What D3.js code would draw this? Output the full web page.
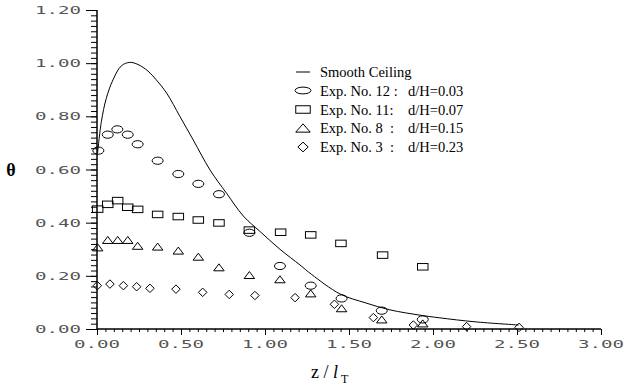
<!DOCTYPE html>
<html>
<head>
<meta charset="utf-8">
<script src="https://cdn.jsdelivr.net/npm/d3@7/dist/d3.min.js"></script>
<style>
  html, body { margin: 0; padding: 0; background: #fff; }
  svg { display: block; }
  .tick-label { font-family: "DejaVu Sans Mono", monospace; font-size: 10px; fill: #555; }
  .legend-text { font-family: "Liberation Serif", "Times New Roman", serif; font-size: 14.5px; fill: #000; white-space: pre; }
</style>
</head>
<body>
<svg id="chart" width="627" height="387"></svg>
<script>
// Axis ticks
const xTickValues = [0, 0.5, 1.0, 1.5, 2.0, 2.5, 3.0];
const yTickValues = [0, 0.2, 0.4, 0.6, 0.8, 1.0, 1.2];

// Smooth ceiling prediction
const smoothX = [0.003, 0.026, 0.055, 0.095, 0.145, 0.195, 0.244, 0.304, 0.353, 0.415, 0.494, 0.573, 0.673, 0.772, 0.871, 0.970, 1.089, 1.208, 1.278, 1.446, 1.600, 1.744, 1.923, 2.040, 2.250, 2.510];
const smoothY = [0.660, 0.780, 0.867, 0.937, 0.990, 1.003, 0.995, 0.970, 0.937, 0.887, 0.799, 0.711, 0.598, 0.510, 0.425, 0.367, 0.300, 0.241, 0.205, 0.132, 0.098, 0.072, 0.052, 0.042, 0.027, 0.015];

// Exp. No. 12 : d/H = 0.03
const exp12X = [0.008, 0.064, 0.121, 0.183, 0.242, 0.361, 0.484, 0.603, 0.726, 0.907, 1.089, 1.272, 1.456, 1.695, 1.939];
const exp12Y = [0.671, 0.731, 0.751, 0.731, 0.695, 0.633, 0.583, 0.546, 0.507, 0.362, 0.237, 0.163, 0.115, 0.069, 0.036];

// Exp. No. 11 : d/H = 0.07
const exp11X = [0.004, 0.064, 0.123, 0.183, 0.242, 0.361, 0.484, 0.603, 0.726, 0.907, 1.093, 1.272, 1.452, 1.700, 1.939];
const exp11Y = [0.451, 0.469, 0.483, 0.458, 0.450, 0.431, 0.423, 0.410, 0.399, 0.372, 0.364, 0.354, 0.322, 0.278, 0.234];

// Exp. No. 8 : d/H = 0.15
const exp8X = [0.004, 0.064, 0.123, 0.183, 0.242, 0.361, 0.484, 0.603, 0.726, 0.907, 1.089, 1.272, 1.456, 1.695, 1.939];
const exp8Y = [0.307, 0.335, 0.335, 0.335, 0.313, 0.310, 0.295, 0.272, 0.232, 0.203, 0.187, 0.134, 0.078, 0.036, 0.021];

// Exp. No. 3 : d/H = 0.23
const exp3X = [0.002, 0.077, 0.157, 0.236, 0.315, 0.470, 0.629, 0.787, 0.940, 1.179, 1.413, 1.645, 1.883, 2.200, 2.512];
const exp3Y = [0.163, 0.169, 0.163, 0.159, 0.153, 0.150, 0.138, 0.130, 0.126, 0.118, 0.093, 0.043, 0.015, 0.009, 0.006];

const legendLabels = ["Smooth Ceiling", "Exp. No. 12 :", "Exp. No. 11:", "Exp. No. 8  :", "Exp. No. 3  :"];
const legendRatios = ["", "d/H=0.03", "d/H=0.07", "d/H=0.15", "d/H=0.23"];

const svg = d3.select("#chart");
const x = d3.scaleLinear().domain([0, 3]).range([97, 601]);
const y = d3.scaleLinear().domain([0, 1.2]).range([329, 10]);
const fmt = d3.format(".2f");

// Marker shapes
function ellipse(g, rx, ry) {
  g.append("ellipse").attr("rx", rx).attr("ry", ry);
}
function square(g, w, h) {
  g.append("rect").attr("x", -w / 2).attr("y", -h / 2).attr("width", w).attr("height", h);
}
function triangle(g, w, h) {
  g.append("path").attr("d", `M0,${-h / 2}L${w / 2},${h / 2}L${-w / 2},${h / 2}Z`);
}
function diamond(g, w, h) {
  g.append("path").attr("d", `M0,${-h / 2}L${w / 2},0L0,${h / 2}L${-w / 2},0Z`);
}

// X axis with minor ticks every 0.05
const xAxisG = svg.append("g").attr("transform", `translate(0,${y(0)})`);
xAxisG.call(d3.axisBottom(x).tickValues(d3.range(0, 3.0001, 0.05)).tickSize(3).tickFormat(""));
xAxisG.call(g2 => g2.append("g").call(d3.axisBottom(x).tickValues(xTickValues).tickSize(6).tickFormat("")));
xAxisG.selectAll(".domain").attr("d", `M${x(0)},0H${x(3)}`);

// Y axis with minor ticks every 0.02
const yAxisG = svg.append("g").attr("transform", `translate(${x(0)},0)`);
yAxisG.call(d3.axisLeft(y).tickValues(d3.range(0, 1.2001, 0.02)).tickSize(6).tickFormat(""));
yAxisG.call(g2 => g2.append("g").call(d3.axisLeft(y).tickValues(yTickValues).tickSize(11).tickFormat("")));
yAxisG.selectAll(".domain").attr("d", `M0,${y(0)}V${y(1.2)}`);

svg.selectAll(".domain, .tick line").attr("stroke", "#000").attr("stroke-width", 1);

// Tick labels in a wide plotter style
svg.append("g").selectAll("text").data(xTickValues).join("text")
  .attr("class", "tick-label")
  .attr("x", d => x(d) - 23).attr("y", y(0) + 19)
  .attr("textLength", 46).attr("lengthAdjust", "spacingAndGlyphs")
  .text(d => fmt(d));

svg.append("g").selectAll("text").data(yTickValues).join("text")
  .attr("class", "tick-label")
  .attr("x", 35).attr("y", d => y(d) + 4)
  .attr("textLength", 46).attr("lengthAdjust", "spacingAndGlyphs")
  .text(d => fmt(d));

// Axis titles
svg.append("text")
  .attr("x", 11).attr("y", y(0.6) + 6)
  .attr("text-anchor", "middle")
  .style("font-family", "'Liberation Serif', serif").style("font-size", "18px").style("font-weight", "bold")
  .text("θ");

const xt = svg.append("text")
  .attr("x", 311).attr("y", 378)
  .style("font-family", "'Liberation Serif', serif").style("font-size", "18px");
xt.append("tspan").text("z / ");
xt.append("tspan").style("font-style", "italic").text("l");
xt.append("tspan").attr("dx", 3).attr("dy", 5).style("font-size", "12px").text("T");

// Smooth ceiling curve
const smoothData = smoothX.map((v, i) => [v, smoothY[i]]);
svg.append("path")
  .datum(smoothData)
  .attr("fill", "none").attr("stroke", "#000").attr("stroke-width", 1)
  .attr("d", d3.line().x(d => x(d[0])).y(d => y(d[1])).curve(d3.curveCatmullRom.alpha(0.5)));

// Experimental series
const series = [
  { xs: exp12X, ys: exp12Y, draw: g => ellipse(g, 5.5, 3.6) },
  { xs: exp11X, ys: exp11Y, draw: g => square(g, 10.5, 6.5) },
  { xs: exp8X, ys: exp8Y, draw: g => triangle(g, 10.5, 7) },
  { xs: exp3X, ys: exp3Y, draw: g => diamond(g, 8.5, 8.5) }
];
series.forEach(s => {
  const pts = s.xs.map((v, i) => [v, s.ys[i]]);
  const g = svg.append("g").attr("fill", "none").attr("stroke", "#000").attr("stroke-width", 1);
  g.selectAll("g").data(pts).join("g")
    .attr("transform", d => `translate(${x(d[0])},${y(d[1])})`)
    .each(function () { s.draw(d3.select(this)); });
});

// Legend
const legend = svg.append("g");
const rowY = [72, 90.5, 109.5, 128, 147];
const legendMarkers = [
  g => g.append("line").attr("x1", -7).attr("x2", 7),
  g => ellipse(g, 8, 3.4),
  g => square(g, 14.5, 7.5),
  g => triangle(g, 14.5, 8.3),
  g => diamond(g, 10.3, 9.7)
];
legendLabels.forEach((lab, i) => {
  const mg = legend.append("g")
    .attr("transform", `translate(303,${rowY[i]})`)
    .attr("fill", "none").attr("stroke", "#000").attr("stroke-width", 1);
  legendMarkers[i](mg);
  legend.append("text").attr("class", "legend-text")
    .attr("x", 320).attr("y", rowY[i] + 5).text(lab);
  if (legendRatios[i]) {
    legend.append("text").attr("class", "legend-text")
      .attr("x", 408).attr("y", rowY[i] + 5).text(legendRatios[i]);
  }
});
</script>
</body>
</html>
